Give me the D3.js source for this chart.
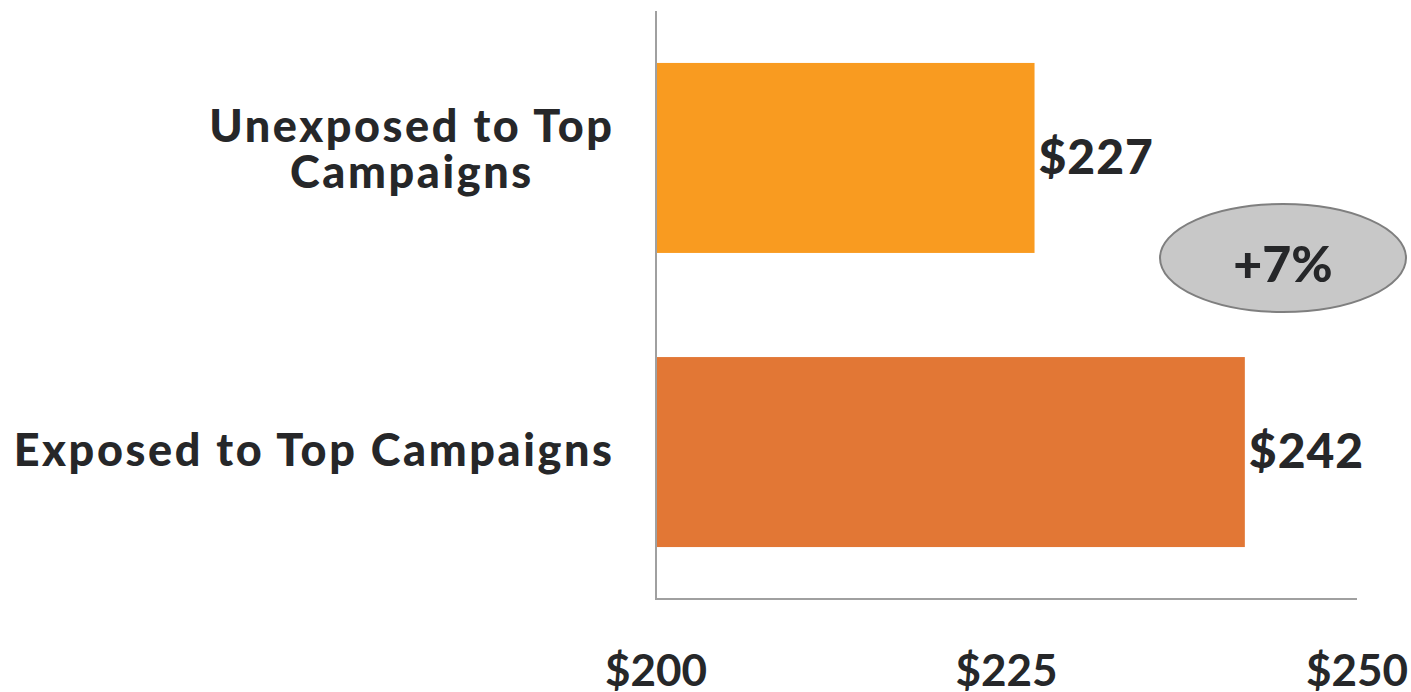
<!DOCTYPE html>
<html>
<head>
<meta charset="utf-8">
<script src="https://cdn.jsdelivr.net/npm/d3@7"></script>
<style>
  html, body { margin: 0; padding: 0; background: #fff; }
  svg { display: block; }
</style>
</head>
<body>
<svg id="chart" width="1411" height="692"></svg>
<script>
// Average spend by campaign exposure
const categories = [["Unexposed to Top", "Campaigns"], ["Exposed to Top Campaigns"]];
const values = [227, 242];
const barColors = ["#F99B20", "#E27735"];
const tickValues = [200, 225, 250];
const liftLabel = "+7%";

const svg = d3.select("#chart");
const textColor = "#262729";
const font = "Lato, 'Open Sans', sans-serif";

const x = d3.scaleLinear().domain([200, 250]).range([656, 1357]);
const y = d3.scaleBand().domain(d3.range(categories.length))
  .range([10, 600]).paddingInner(0.354).paddingOuter(0.18);

// Bars
svg.selectAll("rect.bar").data(values).join("rect")
  .attr("class", "bar")
  .attr("x", x(200))
  .attr("y", (d, i) => y(i))
  .attr("width", d => x(d) - x(200))
  .attr("height", y.bandwidth())
  .attr("fill", (d, i) => barColors[i]);

// Axis lines
svg.append("line").attr("x1", 656).attr("x2", 656).attr("y1", 11).attr("y2", 600)
  .attr("stroke", "#a0a0a0").attr("stroke-width", 2);
svg.append("line").attr("x1", 655).attr("x2", x(250)).attr("y1", 599).attr("y2", 599)
  .attr("stroke", "#a0a0a0").attr("stroke-width", 2);

// X tick labels
svg.selectAll("text.tick").data(tickValues).join("text")
  .attr("class", "tick")
  .attr("x", d => x(d))
  .attr("y", 686)
  .attr("text-anchor", "middle")
  .attr("font-family", font).attr("font-weight", 700).attr("font-size", 44)
  .attr("fill", textColor)
  .text(d => "$" + d);

// Category labels: block right-aligned, lines centred within the block
const spacing = 2.6;
categories.forEach((lines, i) => {
  const cy = y(i) + y.bandwidth() / 2;
  const g = svg.append("g");
  const lineH = 46;
  const base0 = lines.length === 1 ? cy + 14 : cy - 15.5;
  const texts = lines.map((ln, k) => g.append("text")
    .attr("y", base0 + k * lineH)
    .attr("text-anchor", "middle")
    .attr("font-family", font).attr("font-weight", 900).attr("font-size", 45)
    .attr("letter-spacing", spacing)
    .attr("fill", textColor)
    .text(ln));
  const maxW = d3.max(texts, t => t.node().getComputedTextLength());
  texts.forEach(t => t.attr("x", 612 + spacing - maxW / 2));
});

// Value labels
svg.selectAll("text.val").data(values).join("text")
  .attr("class", "val")
  .attr("x", d => x(d) + 4)
  .attr("y", (d, i) => y(i) + y.bandwidth() / 2 + 16)
  .attr("font-family", font).attr("font-weight", 900).attr("font-size", 48)
  .attr("letter-spacing", 1)
  .attr("fill", textColor)
  .text(d => "$" + d);

// Lift callout
svg.append("ellipse").attr("cx", 1283).attr("cy", 258).attr("rx", 123).attr("ry", 54)
  .attr("fill", "#c8c8c8").attr("stroke", "#7f7f7f").attr("stroke-width", 2);
svg.append("text").attr("x", 1283).attr("y", 282)
  .attr("text-anchor", "middle")
  .attr("font-family", font).attr("font-weight", 900).attr("font-size", 50)
  .attr("fill", textColor)
  .text(liftLabel);
</script>
</body>
</html>
